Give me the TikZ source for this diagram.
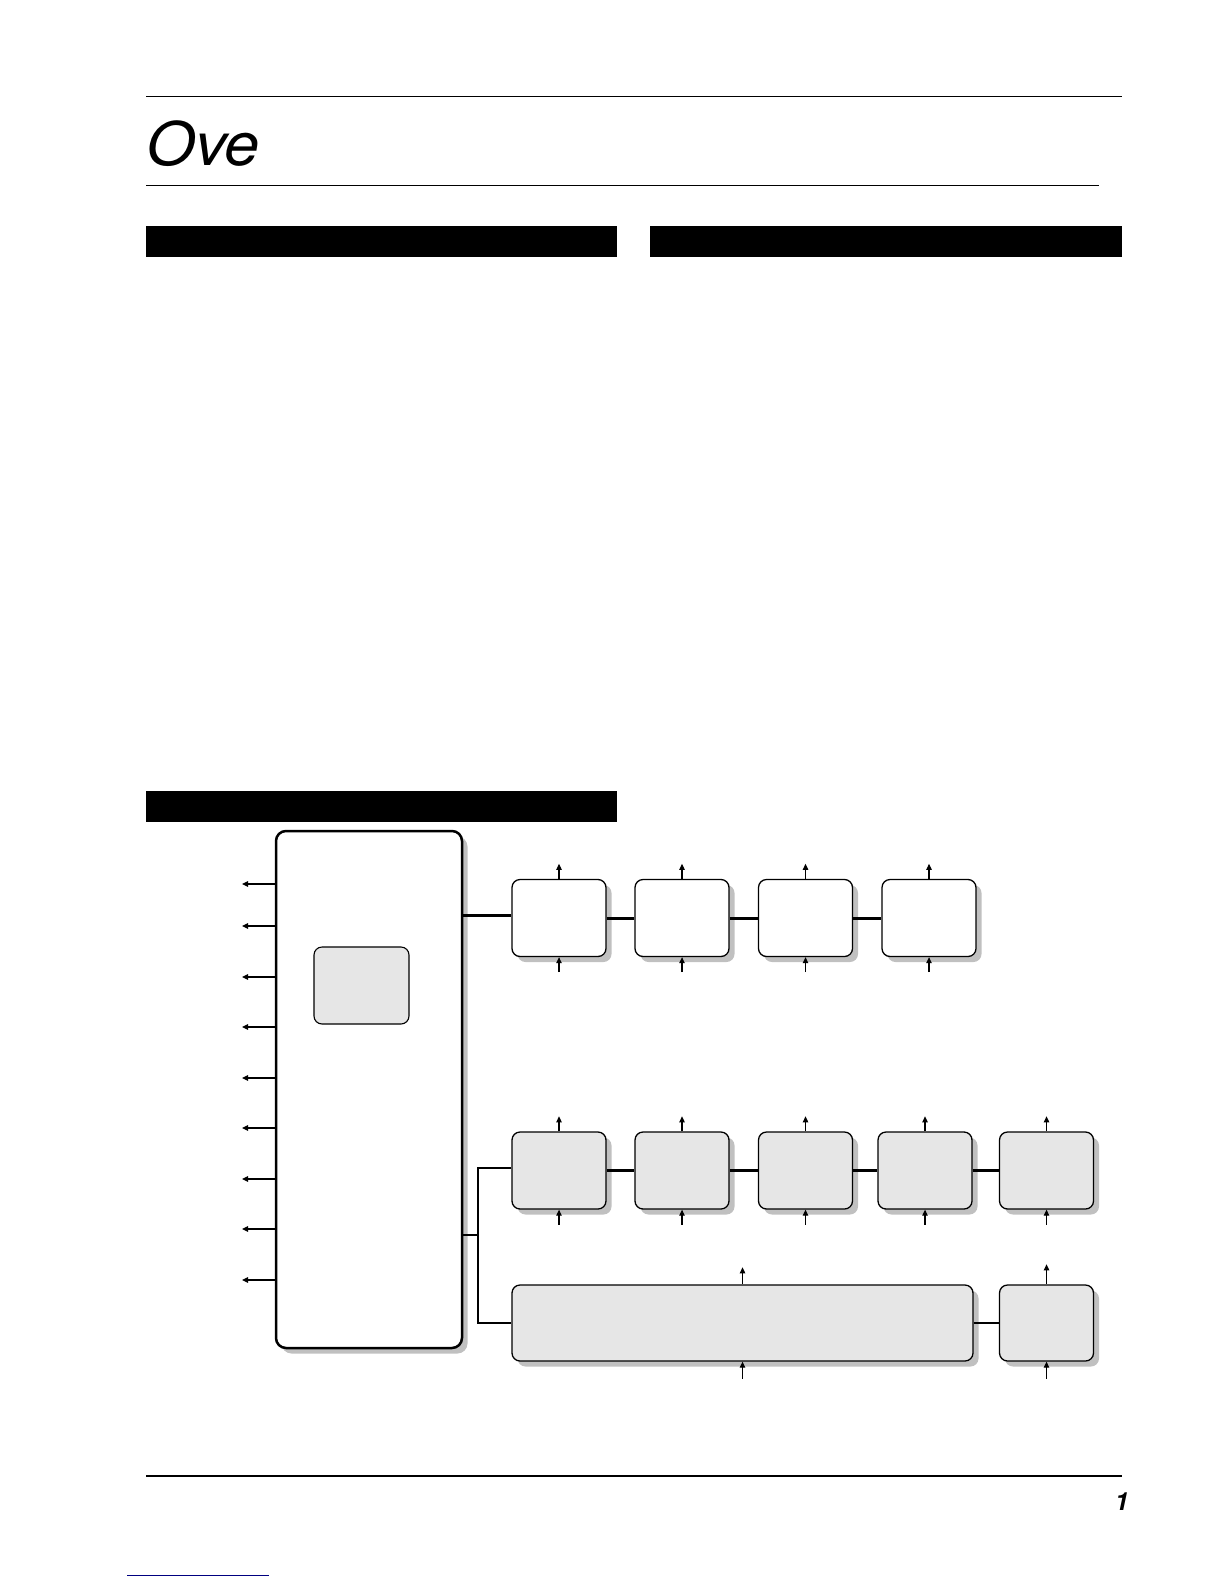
\documentclass[tikz,border=0pt]{standalone}
\usepackage{fontspec}
\setmainfont{TeX Gyre Heros}
\usetikzlibrary{arrows.meta,shadows}
\definecolor{boxgray}{HTML}{E6E6E6}
\definecolor{shadowgray}{HTML}{C0C0C0}
\definecolor{linkblue}{HTML}{000080}
\begin{document}
\begin{tikzpicture}[x=1pt,y=-1pt,
  blk/.style={draw=black, rounded corners=8pt, line width=1.3pt, inner sep=0pt,
    minimum width=94pt, minimum height=77pt,
    drop shadow={shadow xshift=5.5pt, shadow yshift=-5.5pt, fill=shadowgray, opacity=1}},
  wblk/.style={blk, fill=white},
  gblk/.style={blk, fill=boxgray},
  link/.style={line width=3pt},
  bus/.style={line width=2.4pt},
  arr/.style={line width=1.1pt, -{Triangle[length=6pt,width=5.5pt]}},
  bar/.style={fill=black}]
\useasboundingbox (0,0) rectangle (1224,1584);
% page rules and headings
\draw[line width=1.8pt] (146,96.5) -- (1122,96.5);
\node[anchor=base west, inner sep=0pt, font=\fontsize{60}{60}\selectfont\itshape] (title) at (146,165) {\scalebox{1.05}[1]{Ove}};
\draw[line width=1pt] (146,185) -- (1099,185);
\fill[bar] (146,226) rectangle (617,257);
\fill[bar] (650,226) rectangle (1122,257);
\fill[bar] (146,791) rectangle (617,822);
\draw[line width=1.3pt] (146,1476) -- (1122,1476);
\node[anchor=base east, inner sep=0pt, font=\fontsize{25}{25}\selectfont\bfseries\itshape] (pagenum) at (1129,1510) {1};
\draw[line width=1pt, linkblue] (127,1575) -- (269,1575);
% main box
\node[draw=black, fill=white, rounded corners=10pt, line width=2.5pt, inner sep=0pt,
  minimum width=186pt, minimum height=517pt,
  drop shadow={shadow xshift=5.5pt, shadow yshift=-5.5pt, fill=shadowgray, opacity=1}] (main) at (369,1089.5) {};
\node[draw=black, fill=boxgray, rounded corners=8pt, line width=1.1pt, inner sep=0pt,
  minimum width=95pt, minimum height=77pt] (inner) at (361.5,985.5) {};
% left outputs
\foreach \yy [count=\i] in {884,926,977,1027,1078,1128,1179,1229,1280}{
  \coordinate (out\i) at (242,\yy);
  \draw[arr] (main.west |- out\i) -- (out\i);
}
% row 1
\node[wblk] (r1a) at (559,918) {};
\node[wblk] (r1b) at (682,918) {};
\node[wblk] (r1c) at (805.5,918) {};
\node[wblk] (r1d) at (929,918) {};
% row 2
\node[gblk] (r2a) at (559,1170.5) {};
\node[gblk] (r2b) at (682,1170.5) {};
\node[gblk] (r2c) at (805.5,1170.5) {};
\node[gblk] (r2d) at (925,1170.5) {};
\node[gblk] (r2e) at (1046.5,1170.5) {};
% row 3
\node[gblk, minimum width=461pt, minimum height=76pt] (wide) at (742.5,1323) {};
\node[gblk, minimum height=76pt] (r3b) at (1046.5,1323) {};
% connectors
\draw[link] (main.east |- 0,915) -- ([yshift=3pt]r1a.west);
\draw[link] (r1a) -- (r1b);
\draw[link] (r1b) -- (r1c);
\draw[link] (r1c) -- (r1d);
\draw[link] (r2a) -- (r2b);
\draw[link] (r2b) -- (r2c);
\draw[link] (r2c) -- (r2d);
\draw[link] (r2d) -- (r2e);
\draw[bus] (wide) -- (r3b);
\coordinate (busjoint) at (478,1235);
\draw[bus] (main.east |- busjoint) -- (busjoint);
\draw[bus] ([yshift=2.5pt]r2a.west) -| (busjoint) |- (wide.west);
% up/down arrows
\foreach \b in {r1a,r1b,r1c,r1d,r2a,r2b,r2c,r2d,r2e}{
  \draw[arr] (\b.north) -- ++(0,-15);
  \draw[arr] ([yshift=-15pt]\b.south) -- (\b.south);
}
\draw[arr] (wide.north) -- ++(0,-17);
\draw[arr] ([yshift=-17pt]wide.south) -- (wide.south);
\draw[arr] (r3b.north) -- ++(0,-20);
\draw[arr] ([yshift=-17pt]r3b.south) -- (r3b.south);
\end{tikzpicture}
\end{document}
